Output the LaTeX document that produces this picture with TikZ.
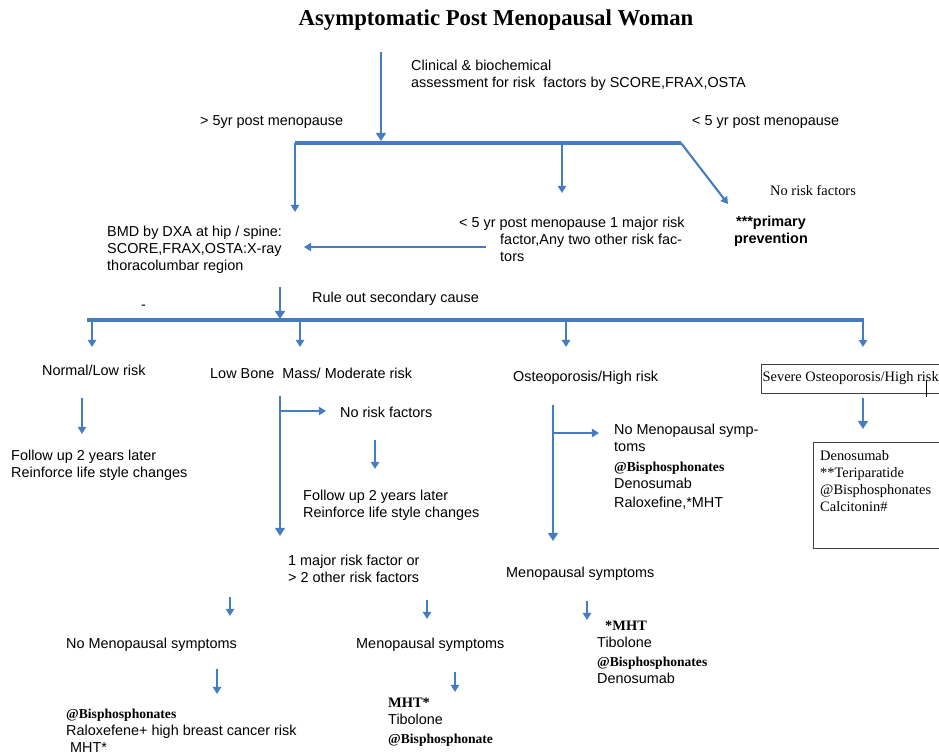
\documentclass[tikz,border=0pt]{standalone}
\usepackage{fontspec}
\setmainfont{Liberation Serif}
\setsansfont{Liberation Sans}
\usetikzlibrary{arrows.meta}
\definecolor{flowblue}{RGB}{70,125,192}

\begin{document}
\begin{tikzpicture}[x=0.03cm,y=-0.03cm,
  sans/.style={font=\sffamily\fontsize{12.3}{14.5}\selectfont,inner sep=0pt,align=left,anchor=west},
  serif/.style={font=\fontsize{12.3}{14.5}\selectfont,inner sep=0pt,align=left,anchor=west},
  flow/.style={flowblue,line width=2.4pt,-{Triangle[width=8.5pt,length=7pt]}},
  thinflow/.style={flowblue,line width=1.8pt,-{Triangle[width=7pt,length=6pt]}},
  bar/.style={flowblue,line width=3.4pt},
  boxline/.style={draw=black!75,line width=0.8pt}]
\useasboundingbox (0,0) rectangle (939,756);
% texts
\node[font=\bfseries\fontsize{19.4}{22}\selectfont,inner sep=0pt] (title) at (496,20) {Asymptomatic Post Menopausal Woman};
\node[sans] (assess) at (411,75.5) {Clinical \& biochemical\\assessment for risk\ \ factors by SCORE,FRAX,OSTA};
\node[sans] (gtfive) at (200,122) {> 5yr post menopause};
\node[sans] (ltfive) at (692,122) {< 5 yr post menopause};
\node[serif] (noriskA) at (770,190) {No risk factors};
\node[sans,font=\sffamily\bfseries\fontsize{12.3}{14.5}\selectfont,align=center,anchor=center] (primary) at (771,231) {***primary\\prevention};
\node[sans] (ltfiverisk) at (459,239) {< 5 yr post menopause 1 major risk\\\hspace*{1.23cm}factor,Any two other risk fac-\\\hspace*{1.23cm}tors};
\node[sans] (bmd) at (107,250) {BMD by DXA at hip / spine:\\SCORE,FRAX,OSTA:X-ray\\thoracolumbar region};
\node[sans] (ruleout) at (312,299) {Rule out secondary cause};
\node[sans] (dash) at (141,307) {-};
\node[sans] (normal) at (42,370) {Normal/Low risk};
\node[sans] (lowmass) at (210,373) {Low Bone\ \ Mass/ Moderate risk};
\node[sans] (osteo) at (513,378) {Osteoporosis/High risk};
\node[serif,boxline,inner xsep=1pt,minimum height=0.87cm] (severe) at (761,378.5) {Severe Osteoporosis/High risk};
\node[sans] (followA) at (11,465) {Follow up 2 years later\\Reinforce life style changes};
\node[sans] (noriskB) at (340,412) {No risk factors};
\node[sans] (followB) at (303,505.5) {Follow up 2 years later\\Reinforce life style changes};
\node[sans] (major) at (288,568.5) {1 major risk factor or\\> 2 other risk factors};
\node[sans] (nomenoA) at (66,645) {No Menopausal symptoms};
\node[sans] (menoA) at (356,645) {Menopausal symptoms};
\node[sans] (treatA) at (66,731) {{\rmfamily\bfseries\fontsize{11.6}{14.5}\selectfont @Bisphosphonates}\\Raloxefene+ high breast cancer risk\\\ MHT*};
\node[sans] (treatB) at (388,722) {{\rmfamily\bfseries MHT*}\\Tibolone\\[2pt]{\rmfamily\bfseries\fontsize{11.6}{14.5}\selectfont @Bisphosphonate}};
\node[sans] (nomenoB) at (614,467) {No Menopausal symp-\\toms\\[2pt]{\rmfamily\bfseries\fontsize{11.6}{14.5}\selectfont @Bisphosphonates}\\Denosumab\\[2pt]Raloxefine,*MHT};
\node[sans] (menoB) at (506,574) {Menopausal symptoms};
\node[sans] (treatC) at (597,652) {\hspace*{0.24cm}{\rmfamily\bfseries *MHT}\\Tibolone\\[2pt]{\rmfamily\bfseries\fontsize{11.6}{14.5}\selectfont @Bisphosphonates}\\Denosumab};
\node[serif,anchor=north west] (drugs) at (820,450) {Denosumab\\**Teriparatide\\@Bisphosphonates\\Calcitonin\#};
\draw[boxline] (813,442) rectangle (950,548);
\draw[black,line width=0.6pt] (926,380) -- (926,397);
% junction points
\coordinate (start) at (381,52);
\coordinate (splitA) at (381,141);
\coordinate (barAl) at (295,143);
\coordinate (barAr) at (681,143);
\coordinate (barAm) at (562,143);
\coordinate (bmdin) at (295,212);
\coordinate (riskin) at (562,193);
\coordinate (primin) at (728,204);
\coordinate (riskout) at (486,247);
\coordinate (bmdside) at (304,247);
\coordinate (bmdout) at (280,287);
\coordinate (splitB) at (280,319);
\coordinate (barBl) at (87,320);
\coordinate (barBr) at (864,320);
% connectors
\draw[flow] (start) -- (splitA);
\draw[bar] (barAl) -- (barAr);
\draw[thinflow,line width=2.2pt] (barAl) -- (bmdin);
\draw[thinflow] (barAm) -- (riskin);
\draw[thinflow] (barAr) -- (primin);
\draw[thinflow] (riskout) -- (bmdside);
\draw[flow] (bmdout) -- (splitB);
\draw[bar] (barBl) -- (barBr);
\foreach \x/\name in {92/normal,300/lowmass,566/osteo,863/severe}
  \draw[thinflow] (\x,320) -- (\x,347) coordinate (\name in);
\draw[thinflow] (82,398) coordinate (normalout) -- (82,434) coordinate (followAin);
\draw[flow] (280,396) coordinate (lowout) -- (280,536) coordinate (majorin);
\draw[thinflow] (280,411) coordinate (lowbranch) -- (326,411) coordinate (noriskBin);
\draw[thinflow] (375,440) coordinate (noriskBout) -- (375,469) coordinate (followBin);
\draw[thinflow] (230,597) coordinate (majorL) -- (230,616) coordinate (nomenoAin);
\draw[thinflow] (427,600) coordinate (majorR) -- (427,619) coordinate (menoAin);
\draw[thinflow] (217,669) coordinate (nomenoAout) -- (217,694) coordinate (treatAin);
\draw[thinflow] (455,672) coordinate (menoAout) -- (455,692) coordinate (treatBin);
\draw[flow] (553,405) coordinate (osteoout) -- (553,541) coordinate (menoBin);
\draw[thinflow] (553,433) coordinate (osteobranch) -- (599,433) coordinate (nomenoBin);
\draw[thinflow] (587,601) coordinate (menoBout) -- (587,620) coordinate (treatCin);
\draw[flow] (863,398) coordinate (severeout) -- (863,429) coordinate (drugsin);
\end{tikzpicture}
\end{document}
